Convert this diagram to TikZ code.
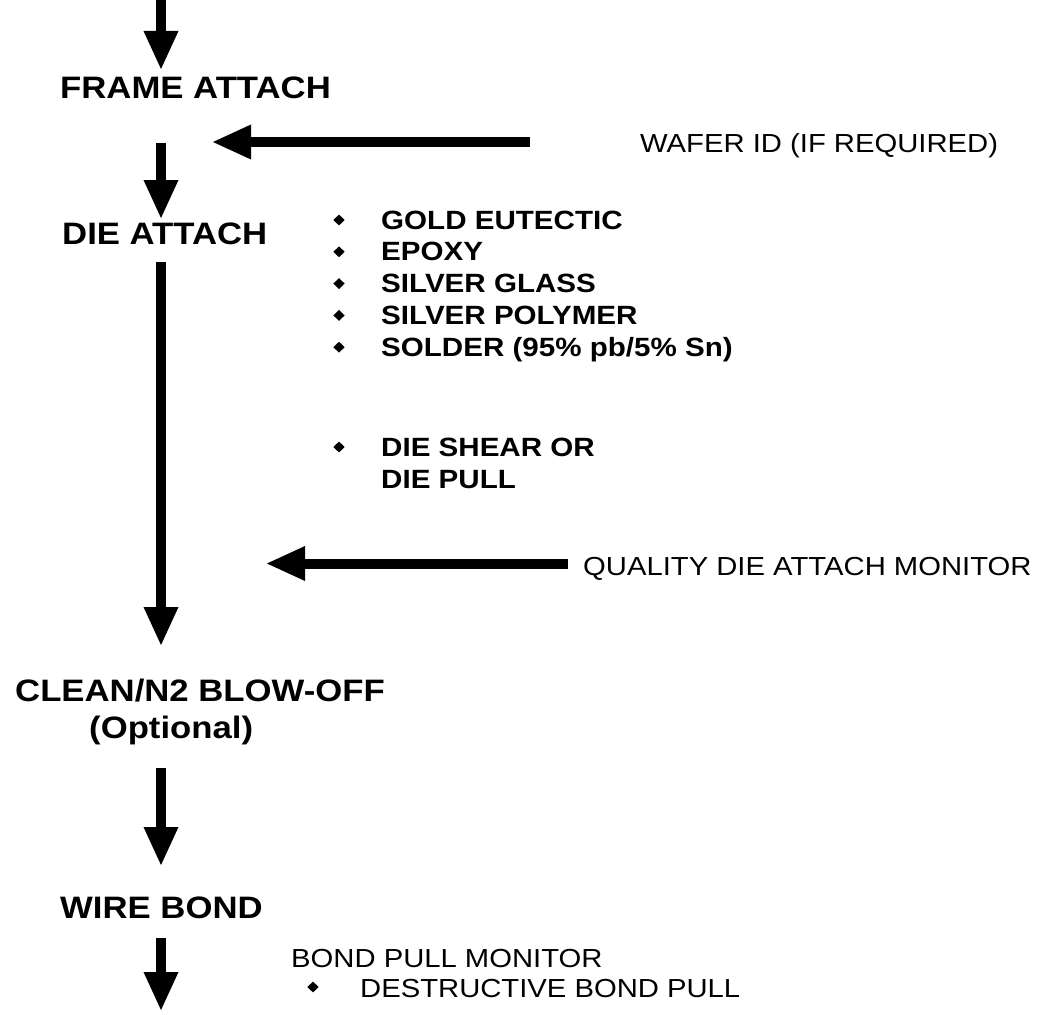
\documentclass[tikz,border=0pt]{standalone}
\usepackage{fontspec}
\setmainfont{Liberation Sans}[FakeStretch=1.12]
\usetikzlibrary{arrows.meta,shapes.geometric}
\begin{document}
\begin{tikzpicture}[x=1pt,y=-1pt,
  flow/.style={line width=10pt,-{Triangle[length=38pt,width=35pt,line width=0pt]}},
  title/.style={font=\bfseries\fontsize{31}{36}\selectfont,inner sep=0pt,anchor=base west},
  note/.style={font=\fontsize{26.1}{31}\selectfont,inner sep=0pt,anchor=base west},
  item/.style={font=\bfseries\fontsize{26.4}{31}\selectfont,inner sep=0pt,anchor=base west},
  dot/.style={diamond,fill,inner sep=0pt,minimum width=11.5pt,minimum height=11pt}]
\useasboundingbox (0,0) rectangle (1046,1014);

% process steps
\node[title] (frame) at (60,99) {FRAME ATTACH};
\node[title] (die) at (62,244) {DIE ATTACH};
\node[title] (clean) at (15,701) {CLEAN/N2 BLOW-OFF};
\node[title] (opt) at (89,738) {(Optional)};
\node[title] (wire) at (60,918) {WIRE BOND};

% side inputs
\node[note] (wafer) at (640,153) {WAFER ID (IF REQUIRED)};
\node[note] (qdam) at (583,575) {QUALITY DIE ATTACH MONITOR};
\node[note] (bpm) at (291,967) {BOND PULL MONITOR};

% die attach materials
\foreach \t [count=\i] in {GOLD EUTECTIC,EPOXY,SILVER GLASS,SILVER POLYMER,SOLDER (95\% pb/5\% Sn)}{
  \node[item] (mat\i) at (381,{229+31.8*(\i-1)}) {\t};
  \node[dot] (matdot\i) at (339,{220+31.8*(\i-1)}) {};
}

% die attach checks
\node[item] (shear) at (381,456) {DIE SHEAR OR};
\node[item] (pull) at (381,488) {DIE PULL};
\node[dot] (sheardot) at (339,447) {};

% bond pull check
\node[note] (destr) at (360,997) {DESTRUCTIVE BOND PULL};
\node[dot] (destrdot) at (313,987) {};

% connector end points
\coordinate (in) at (161,0);
\coordinate (frameIn) at (161,69);
\coordinate (frameOut) at (161,143);
\coordinate (dieIn) at (161,218);
\coordinate (dieOut) at (161,262);
\coordinate (cleanIn) at (161,645);
\coordinate (cleanOut) at (161,768);
\coordinate (wireIn) at (161,865);
\coordinate (wireOut) at (161,938);
\coordinate (out) at (161,1010);
\coordinate (waferTail) at (530,142);
\coordinate (waferTip) at (213,142);
\coordinate (qdamTail) at (568,563.5);
\coordinate (qdamTip) at (267,563.5);

% flow arrows
\draw[flow] (in) -- (frameIn);
\draw[flow] (frameOut) -- (dieIn);
\draw[flow] (dieOut) -- (cleanIn);
\draw[flow] (cleanOut) -- (wireIn);
\draw[flow] (wireOut) -- (out);
\draw[flow] (waferTail) -- (waferTip);
\draw[flow] (qdamTail) -- (qdamTip);
\end{tikzpicture}
\end{document}
